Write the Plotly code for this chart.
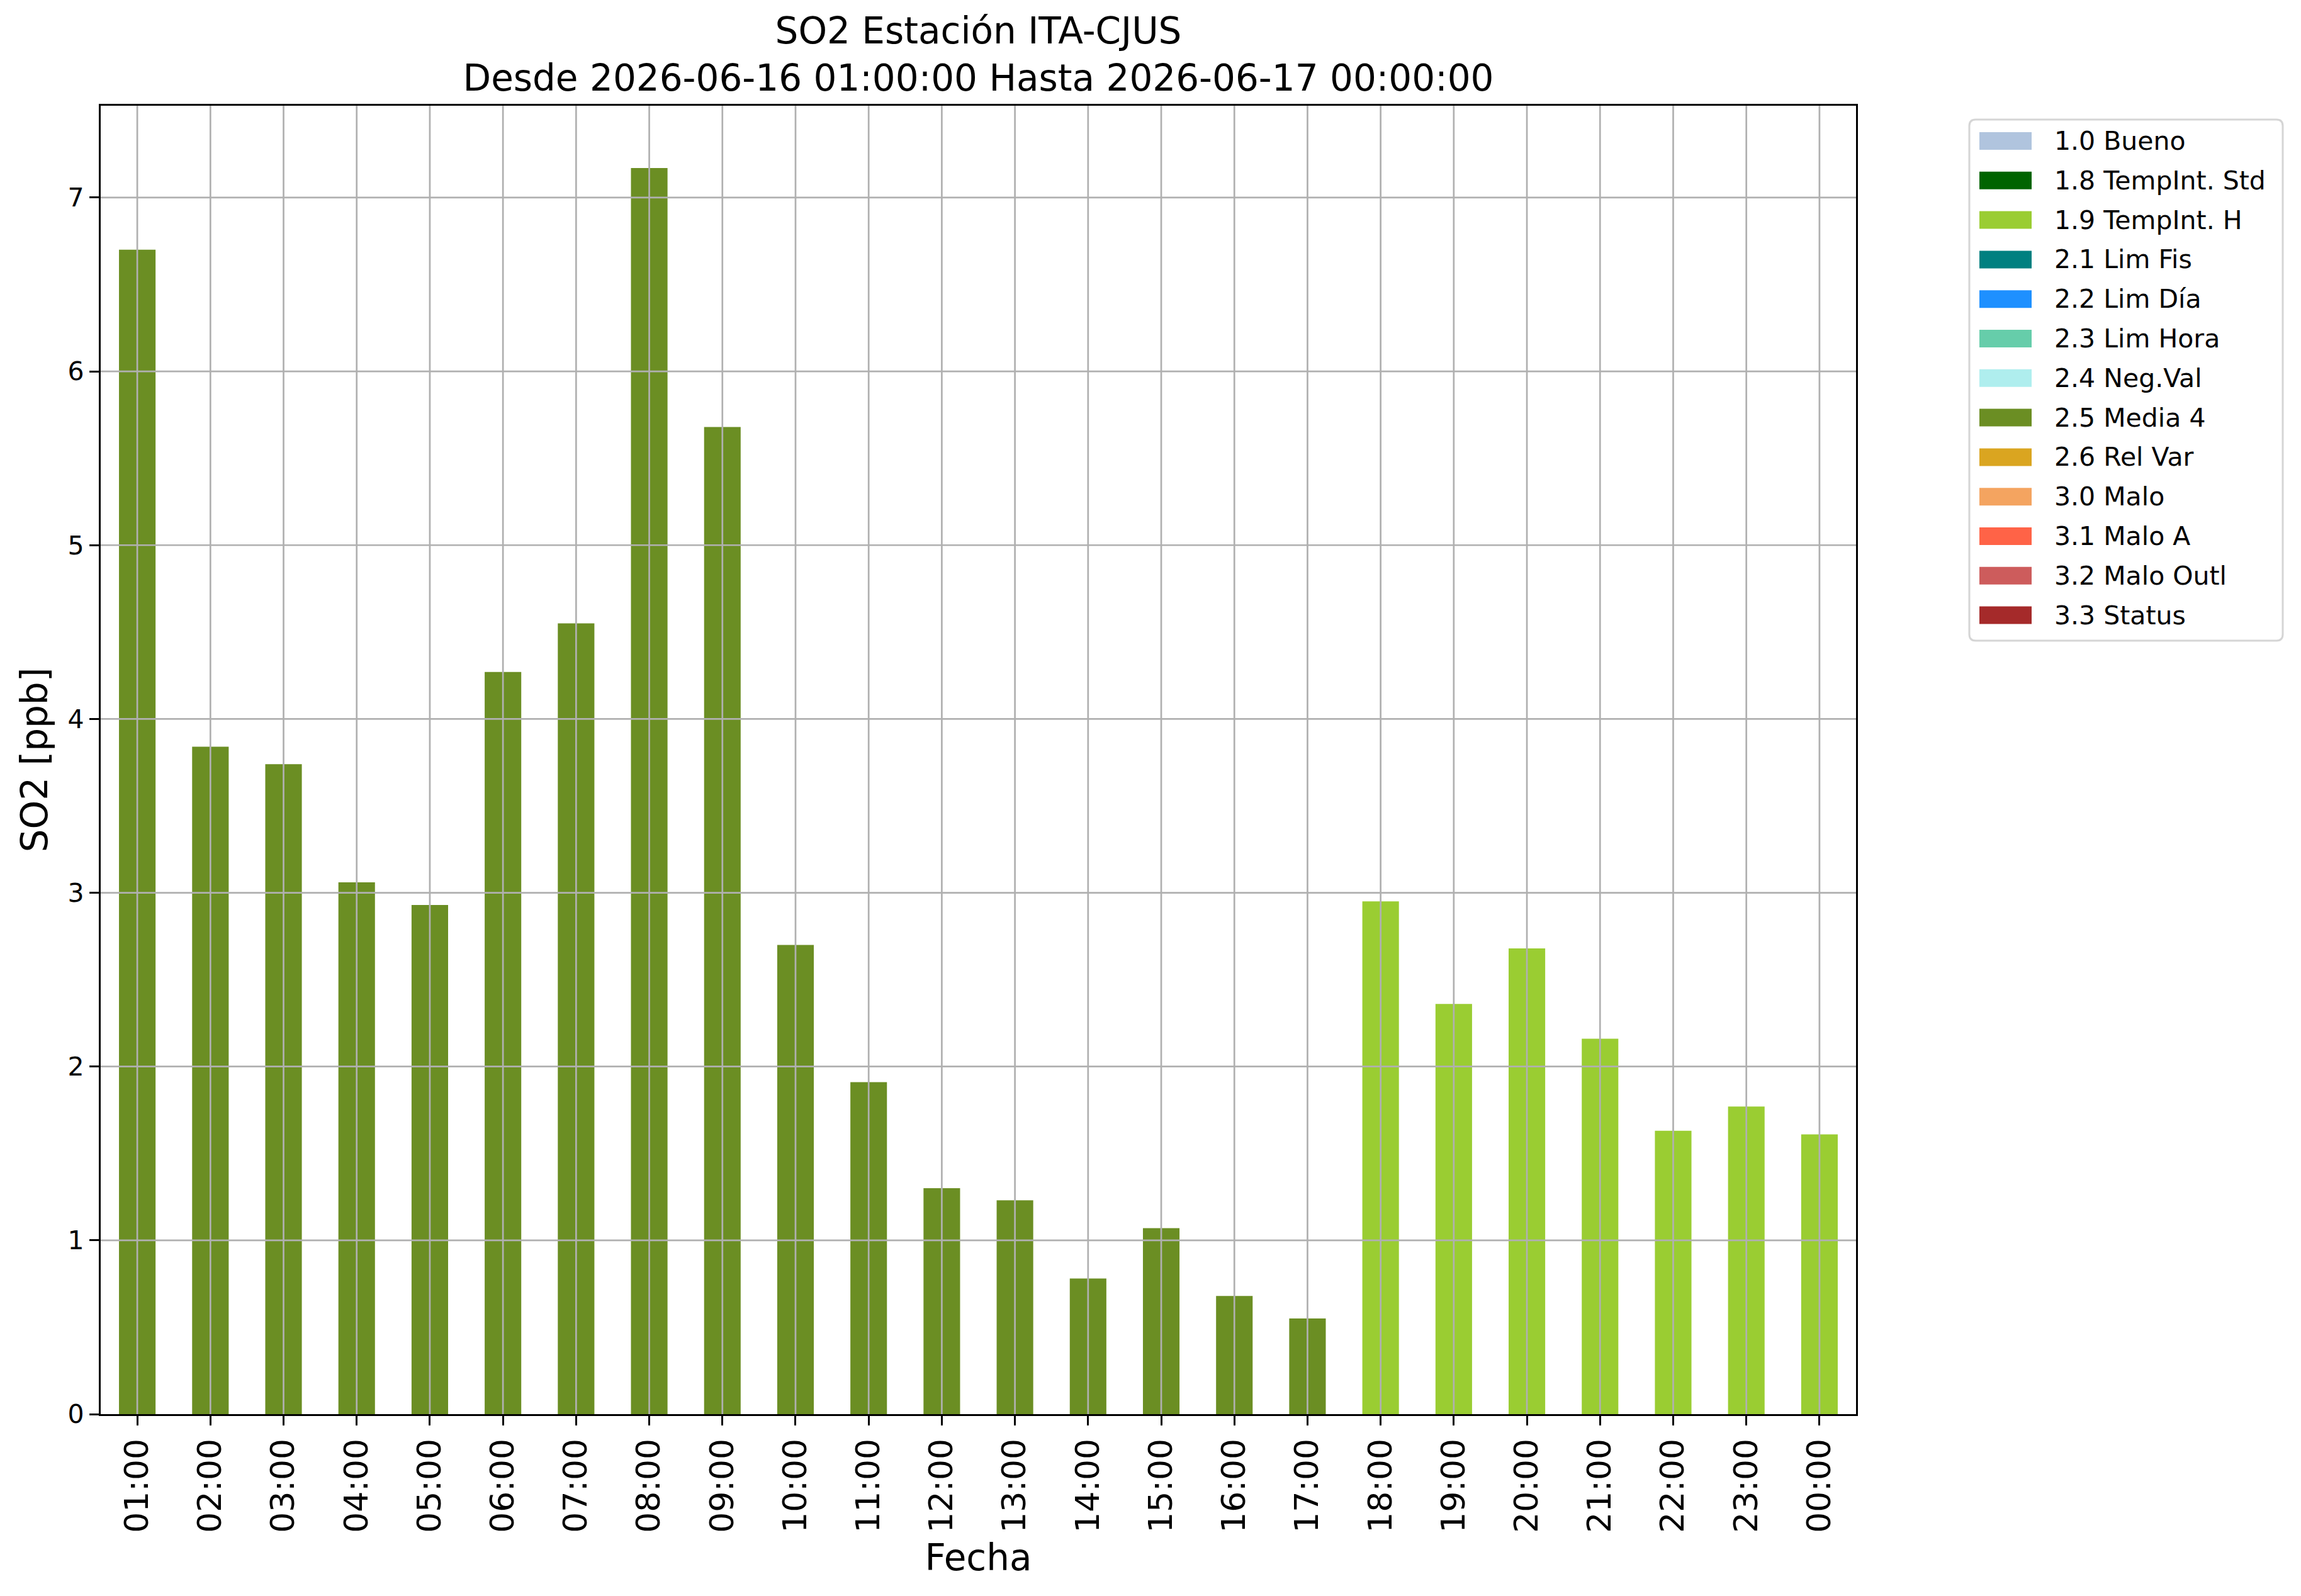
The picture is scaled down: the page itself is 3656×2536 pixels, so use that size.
import plotly.graph_objects as go

# ---- data ----
hours = ["01:00", "02:00", "03:00", "04:00", "05:00", "06:00", "07:00", "08:00",
         "09:00", "10:00", "11:00", "12:00", "13:00", "14:00", "15:00", "16:00",
         "17:00", "18:00", "19:00", "20:00", "21:00", "22:00", "23:00", "00:00"]
so2_ppb = [6.70, 3.84, 3.74, 3.06, 2.93, 4.27, 4.55, 7.17,
           5.68, 2.70, 1.91, 1.30, 1.23, 0.78, 1.07, 0.68,
           0.55, 2.95, 2.36, 2.68, 2.16, 1.63, 1.77, 1.61]
quality_flag = ["2.5", "2.5", "2.5", "2.5", "2.5", "2.5", "2.5", "2.5",
                "2.5", "2.5", "2.5", "2.5", "2.5", "2.5", "2.5", "2.5",
                "2.5", "1.9", "1.9", "1.9", "1.9", "1.9", "1.9", "1.9"]

flag_codes = ["1.0", "1.8", "1.9", "2.1", "2.2", "2.3", "2.4", "2.5", "2.6",
              "3.0", "3.1", "3.2", "3.3"]
flag_names = ["Bueno", "TempInt. Std", "TempInt. H", "Lim Fis", "Lim Día",
              "Lim Hora", "Neg.Val", "Media 4", "Rel Var", "Malo", "Malo A",
              "Malo Outl", "Status"]
flag_colors = ["#B0C4DE", "#006400", "#9ACD32", "#008080", "#1E90FF", "#66CDAA",
               "#AFEEEE", "#6B8E23", "#DAA520", "#F4A460", "#FF6347", "#CD5C5C",
               "#A52A2A"]

y_ticks = [0, 1, 2, 3, 4, 5, 6, 7]

title_text = ("SO2 Estación ITA-CJUS<br>"
              "Desde 2026-06-16 01:00:00 Hasta 2026-06-17 00:00:00")

# ---- layout geometry (pixels) ----
FONT = "DejaVu Sans"
W, H = 3656, 2536
ML, MR, MT, MB = 160, 707, 168, 289
PW, PH = W - ML - MR, H - MT - MB


def px(xp):
    return (xp - ML) / PW


def py(yp):
    return (H - MB - yp) / PH


y_top = max(so2_ppb) * 1.05

fig = go.Figure()
for code, name, color in zip(flag_codes, flag_names, flag_colors):
    yv = [v if f == code else None for v, f in zip(so2_ppb, quality_flag)]
    fig.add_trace(go.Bar(
        x=hours, y=yv, name=f"{code} {name}", width=0.5,
        marker=dict(color=color, line=dict(width=0)),
        showlegend=False,
    ))

# grid drawn above bars (as in the reference)
grid_color = "#b0b0b0"
grid_w = 2.7
shapes = []
for h in hours:
    shapes.append(dict(type="line", xref="x", yref="paper", x0=h, x1=h, y0=0, y1=1,
                       line=dict(color=grid_color, width=grid_w), layer="above"))
for t in y_ticks:
    if t > 0:
        shapes.append(dict(type="line", xref="paper", yref="y", x0=0, x1=1, y0=t, y1=t,
                           line=dict(color=grid_color, width=grid_w), layer="above"))

# ---- legend (matplotlib style: rounded frame, wide swatches) ----
LX0, LX1, LY0, LY1 = 3129, 3627, 190, 1018
rad = 10
rx, ry = rad / PW, rad / PH
a0, a1, b0, b1 = px(LX0), px(LX1), py(LY0), py(LY1)
frame = (f"M{a0 + rx},{b0} L{a1 - rx},{b0} Q{a1},{b0} {a1},{b0 - ry} "
         f"L{a1},{b1 + ry} Q{a1},{b1} {a1 - rx},{b1} L{a0 + rx},{b1} "
         f"Q{a0},{b1} {a0},{b1 + ry} L{a0},{b0 - ry} Q{a0},{b0} {a0 + rx},{b0} Z")
shapes.append(dict(type="path", xref="paper", yref="paper", path=frame,
                   fillcolor="white", line=dict(color="#d5d5d5", width=3)))

annotations = []
entry_y0, entry_step = 224, 62.8
sw_x0, sw_x1, sw_h = 3145, 3228, 28
text_x = 3262
for i, (code, name, color) in enumerate(zip(flag_codes, flag_names, flag_colors)):
    cy = entry_y0 + i * entry_step
    shapes.append(dict(type="rect", xref="paper", yref="paper",
                       x0=px(sw_x0), x1=px(sw_x1), y0=py(cy - sw_h / 2), y1=py(cy + sw_h / 2),
                       fillcolor=color, line=dict(width=0)))
    annotations.append(dict(text=f"{code} {name}", xref="paper", yref="paper",
                            x=px(text_x), y=py(cy), xanchor="left", yanchor="middle",
                            showarrow=False,
                            font=dict(family=FONT, size=41, color="black")))

fig.update_layout(
    width=W, height=H,
    margin=dict(l=ML, r=MR, t=MT, b=MB, autoexpand=False),
    paper_bgcolor="white", plot_bgcolor="white",
    font=dict(family=FONT, color="black", size=41),
    barmode="overlay",
    shapes=shapes,
    annotations=annotations,
    title=dict(text=title_text, font=dict(family=FONT, size=58, color="black"),
               x=0.5, xref="paper", xanchor="center",
               y=1 - 69 / H, yref="container", yanchor="top"),
    xaxis=dict(
        type="category", categoryorder="array", categoryarray=hours,
        range=[-0.5, len(hours) - 0.5],
        showgrid=False, zeroline=False,
        showline=True, linecolor="black", linewidth=3.3, mirror=True,
        ticks="outside", ticklen=15, tickwidth=3.3, tickcolor="black",
        tickangle=-90, tickfont=dict(family=FONT, size=52),
        title=dict(text="Fecha", font=dict(family=FONT, size=58), standoff=20),
        layer="above traces", fixedrange=True,
    ),
    yaxis=dict(
        range=[0, y_top], tickmode="array", tickvals=y_ticks,
        ticktext=[str(t) for t in y_ticks],
        showgrid=False, zeroline=False,
        showline=True, linecolor="black", linewidth=3.3, mirror=True,
        ticks="outside", ticklen=15, tickwidth=3.3, tickcolor="black",
        tickfont=dict(family=FONT, size=41),
        title=dict(text="SO2 [ppb]", font=dict(family=FONT, size=58), standoff=14),
        layer="above traces", fixedrange=True,
    ),
    showlegend=False,
)

fig.write_html("out.html", config={"displayModeBar": False},
               post_script="document.body.style.margin='0px';")
